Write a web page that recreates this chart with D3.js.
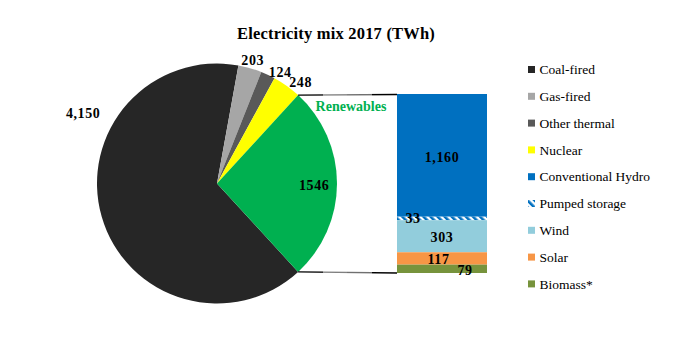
<!DOCTYPE html>
<html>
<head>
<meta charset="utf-8">
<script src="https://cdn.jsdelivr.net/npm/d3@7"></script>
<style>
  html, body { margin: 0; padding: 0; background: #fff; }
  svg { display: block; font-family: "Liberation Serif", "DejaVu Serif", serif; }
</style>
</head>
<body>
<svg id="chart" width="674" height="337"></svg>
<script>
// ---------- DATA ----------
const title = "Electricity mix 2017 (TWh)";
const pieCategories = ["Coal-fired", "Gas-fired", "Other thermal", "Nuclear"];
const pieValues = [4150, 203, 124, 248];
const pieLabels = ["4,150", "203", "124", "248"];
const renewablesName = "Renewables";
const renewablesLabel = "1546";
const barCategories = ["Conventional Hydro", "Pumped storage", "Wind", "Solar", "Biomass*"];
const barValues = [1160, 33, 303, 117, 79];
const barLabels = ["1,160", "33", "303", "117", "79"];
const legendItems = ["Coal-fired", "Gas-fired", "Other thermal", "Nuclear", "Conventional Hydro", "Pumped storage", "Wind", "Solar", "Biomass*"];

// ---------- STYLE / LAYOUT ----------
const colors = {
  "Coal-fired": "#262626", "Gas-fired": "#a6a6a6", "Other thermal": "#595959", "Nuclear": "#ffff00",
  "Renewables": "#00b050", "Conventional Hydro": "#0070c0", "Pumped storage": "url(#hatch)",
  "Wind": "#92cddc", "Solar": "#f79646", "Biomass*": "#77933c"
};
const pieNudge = [[-9, -107], [0, 1.5], [8, 6], [8, 4.5]];
const barLabelNudge = [[0, 1.5], [-29, -0.5], [0, 0.5], [-3.5, 0.5], [23, 1]];
const cx = 217, cy = 183.5, R = 120;
const barX0 = 397, barX1 = 487, barTop = 94, barBottom = 273;
const numLS = 0.6;

const svg = d3.select("#chart");
const defs = svg.append("defs");
const pat = defs.append("pattern").attr("id", "hatch").attr("patternUnits", "userSpaceOnUse")
  .attr("width", 5).attr("height", 5).attr("patternTransform", "rotate(-45)");
pat.append("rect").attr("width", 5).attr("height", 5).attr("fill", "#fff");
pat.append("rect").attr("width", 2.6).attr("height", 5).attr("fill", "#0070c0");

const grad = defs.append("linearGradient").attr("id", "conn").attr("gradientUnits", "userSpaceOnUse")
  .attr("x1", 297).attr("x2", barX0).attr("y1", 0).attr("y2", 0);
[[0, "#000"], [0.26, "#000"], [0.26, "#808080"], [0.5, "#808080"], [0.5, "#707070"], [0.75, "#707070"], [0.75, "#000"], [1, "#000"]]
  .forEach(([o, c]) => grad.append("stop").attr("offset", o).attr("stop-color", c));

// title
svg.append("text").attr("x", 336).attr("y", 38.5).attr("text-anchor", "middle")
  .attr("font-weight", "bold").attr("font-size", 16.5).attr("letter-spacing", 0.2).text(title);

// ---------- PIE ----------
const renewTotal = d3.sum(barValues);
const pieData = pieCategories.map((c, i) => ({ name: c, value: pieValues[i], label: pieLabels[i] }))
  .concat([{ name: renewablesName, value: renewTotal, label: renewablesLabel }]);
const total = d3.sum(pieData, d => d.value);
const renewAngle = 2 * Math.PI * renewTotal / total;
const start = Math.PI / 2 + renewAngle / 2;
const pie = d3.pie().sort(null).value(d => d.value).startAngle(start).endAngle(start + 2 * Math.PI);
const arcs = pie(pieData);
const arc = d3.arc().innerRadius(0).outerRadius(R);
const g = svg.append("g").attr("transform", `translate(${cx},${cy})`);
g.selectAll("path").data(arcs).join("path")
  .attr("d", arc).attr("fill", d => colors[d.data.name]);

const polar = (a, r) => [r * Math.sin(a), -r * Math.cos(a)];
arcs.forEach((d, i) => {
  const mid = (d.startAngle + d.endAngle) / 2;
  if (i < pieCategories.length) {
    const [x, y] = polar(mid, 130);
    g.append("text").attr("x", x + pieNudge[i][0]).attr("y", y + pieNudge[i][1]).attr("dy", "0.35em")
      .attr("text-anchor", "middle").attr("font-weight", "bold").attr("font-size", 14)
      .attr("letter-spacing", numLS).text(d.data.label);
  } else {
    const [x, y] = polar(mid, R * 0.81);
    g.append("text").attr("x", x).attr("y", y + 2).attr("dy", "0.35em")
      .attr("text-anchor", "middle").attr("font-weight", "bold").attr("font-size", 14)
      .attr("letter-spacing", numLS).text(d.data.label);
  }
});

// connector lines
const rArc = arcs[arcs.length - 1];
const pTop = polar(rArc.startAngle, R), pBot = polar(rArc.endAngle, R);
svg.append("line").attr("x1", cx + pTop[0]).attr("y1", cy + pTop[1]).attr("x2", barX0).attr("y2", barTop + 0.5)
  .attr("stroke", "url(#conn)").attr("stroke-width", 1.3);
svg.append("line").attr("x1", cx + pBot[0]).attr("y1", cy + pBot[1]).attr("x2", barX0).attr("y2", barBottom)
  .attr("stroke", "url(#conn)").attr("stroke-width", 1.3);

svg.append("text").attr("x", 351).attr("y", 106).attr("dy", "0.35em").attr("text-anchor", "middle")
  .attr("font-weight", "bold").attr("font-size", 14).attr("fill", "#00b050").text(renewablesName);

// ---------- STACKED BAR ----------
const y = d3.scaleLinear().domain([0, renewTotal]).range([barBottom, barTop]);
let cum = 0;
const segs = barCategories.map((c, i) => ({ name: c, value: barValues[i], label: barLabels[i] }))
  .reverse().map(d => { const s = { ...d, y0: cum, y1: cum + d.value }; cum += d.value; return s; }).reverse();
svg.selectAll("rect.seg").data(segs).join("rect").attr("class", "seg")
  .attr("x", barX0).attr("width", barX1 - barX0)
  .attr("y", d => y(d.y1)).attr("height", d => y(d.y0) - y(d.y1))
  .attr("fill", d => colors[d.name]);
segs.forEach((d, i) => {
  svg.append("text").attr("x", (barX0 + barX1) / 2 + barLabelNudge[i][0])
    .attr("y", (y(d.y0) + y(d.y1)) / 2 + barLabelNudge[i][1]).attr("dy", "0.35em")
    .attr("text-anchor", "middle").attr("font-weight", "bold").attr("font-size", 14)
    .attr("letter-spacing", numLS).text(d.label);
});

// ---------- LEGEND ----------
const lg = svg.append("g");
legendItems.forEach((name, i) => {
  const yy = 69.5 + i * 26.8;
  lg.append("rect").attr("x", 528).attr("y", yy - 3.5).attr("width", 7).attr("height", 7).attr("fill", colors[name]);
  lg.append("text").attr("x", 539.5).attr("y", yy).attr("dy", "0.35em").attr("font-size", 13.5).text(name);
});
</script>
</body>
</html>
